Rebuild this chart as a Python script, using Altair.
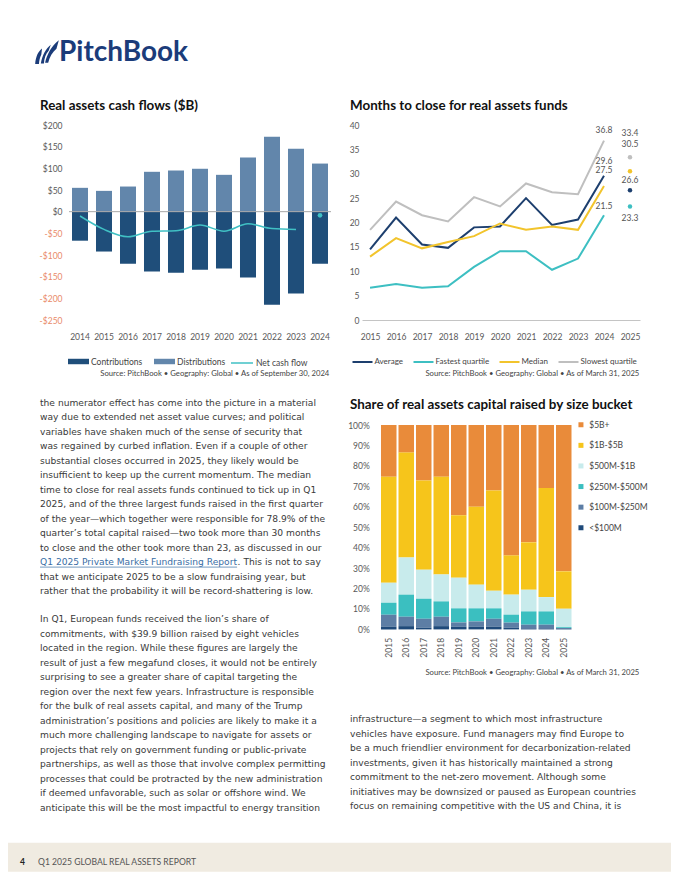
import altair as alt
import pandas as pd

FONT = "Lato"
BODY_FONT = "DejaVu Sans"
TXT = "#3a3a3a"
AX = "#595959"

# ---------------- data: cash flows ($B) ----------------
cf_years = [str(y) for y in range(2014, 2025)]
contributions = [-67, -92, -120, -138, -141, -134, -131, -152, -215, -189, -120]
distributions = [55, 48, 58, 92, 95, 99, 85, 125, 173, 145, 111]
net_years = [str(y) for y in range(2014, 2024)]
net_cash_flow = [-10, -41, -58, -45, -44, -31, -45, -28, -39, -41]
net_last_year = ["2024"]
net_last_value = [-8.5]

# ---------------- data: months to close ----------------
mt_years = list(range(2015, 2025))
mt_series = ["Average", "Fastest quartile", "Median", "Slowest quartile"]
mt_average = [14.5, 21.0, 15.5, 14.8, 19.0, 19.2, 25.0, 19.5, 20.6, 29.6]
mt_fastest = [6.6, 7.4, 6.6, 6.9, 10.9, 14.1, 14.1, 10.3, 12.6, 21.5]
mt_median = [13.0, 16.8, 14.7, 16.0, 17.2, 19.8, 18.5, 19.2, 18.5, 27.5]
mt_slowest = [18.5, 24.3, 21.5, 20.2, 25.2, 23.3, 28.0, 26.2, 25.8, 36.8]
mt_2025 = [26.6, 23.3, 30.5, 33.4]
mt_colors = ["#1d3f6e", "#3dbfc2", "#f2c42c", "#bfbfbf"]
mt_widths = [2.0, 2.0, 1.6, 1.2]

# ---------------- data: share by size bucket (%) ----------------
sb_years = [str(y) for y in range(2015, 2026)]
sb_buckets = ["$5B+", "$1B-$5B", "$500M-$1B", "$250M-$500M", "$100M-$250M", "<$100M"]
sb_colors = ["#e98b3a", "#f6c51b", "#c8ebec", "#3bbfc0", "#5d7ea5", "#1f4a7a"]
sb_lt100m = [1.3, 1.6, 0.8, 1.6, 1.3, 1.3, 1.3, 0.8, 0.5, 0.5, 0.2]
sb_100_250m = [5.9, 4.6, 4.4, 4.6, 2.1, 2.6, 3.9, 2.5, 1.8, 1.8, 0.5]
sb_250_500m = [5.8, 10.8, 9.8, 7.5, 6.9, 6.4, 5.1, 3.9, 6.5, 6.5, 0.4]
sb_500m_1b = [9.8, 18.2, 14.2, 13.2, 15.0, 11.6, 8.6, 9.8, 10.6, 7.0, 9.0]
sb_1b_5b = [51.9, 51.3, 43.6, 47.8, 30.5, 38.1, 49.0, 19.2, 23.2, 53.4, 18.3]
sb_5b_plus = [25.3, 13.5, 27.2, 25.3, 44.2, 40.0, 32.1, 63.8, 57.4, 30.8, 71.6]

# ---------------- text ----------------
para1_a = [
    "the numerator effect has come into the picture in a material",
    "way due to extended net asset value curves; and political",
    "variables have shaken much of the sense of security that",
    "was regained by curbed inflation. Even if a couple of other",
    "substantial closes occurred in 2025, they likely would be",
    "insufficient to keep up the current momentum. The median",
    "time to close for real assets funds continued to tick up in Q1",
    "2025, and of the three largest funds raised in the first quarter",
    "of the year\u2014which together were responsible for 78.9% of the",
    "quarter\u2019s total capital raised\u2014two took more than 30 months",
    "to close and the other took more than 23, as discussed in our",
]
para1_link = "Q1 2025 Private Market Fundraising Report"
para1_link_rest = ". This is not to say"
para1_b = [
    "that we anticipate 2025 to be a slow fundraising year, but",
    "rather that the probability it will be record-shattering is low.",
]
para2 = [
    "In Q1, European funds received the lion\u2019s share of",
    "commitments, with $39.9 billion raised by eight vehicles",
    "located in the region. While these figures are largely the",
    "result of just a few megafund closes, it would not be entirely",
    "surprising to see a greater share of capital targeting the",
    "region over the next few years. Infrastructure is responsible",
    "for the bulk of real assets capital, and many of the Trump",
    "administration\u2019s positions and policies are likely to make it a",
    "much more challenging landscape to navigate for assets or",
    "projects that rely on government funding or public-private",
    "partnerships, as well as those that involve complex permitting",
    "processes that could be protracted by the new administration",
    "if deemed unfavorable, such as solar or offshore wind. We",
    "anticipate this will be the most impactful to energy transition",
]
para3 = [
    "infrastructure\u2014a segment to which most infrastructure",
    "vehicles have exposure. Fund managers may find Europe to",
    "be a much friendlier environment for decarbonization-related",
    "investments, given it has historically maintained a strong",
    "commitment to the net-zero movement. Although some",
    "initiatives may be downsized or paused as European countries",
    "focus on remaining competitive with the US and China, it is",
]

BODY_FS = 9.15
LH = 14.5
LINK_END = 237.6  # page x where the link text ends
TITLE_FS = 13.4

# panel origins in page coordinates
O_CASH = (69, 124.3)
O_MON = (362, 124.3)
O_TXT = (69, 424.3)
O_SHR = (362, 424.3)
SHR_LEFT = 17  # share bars start 17px right of the panel origin


def txt(text, px, py, origin, **kw):
    """Text placed at a page position, relative to the panel origin."""
    base = dict(font=FONT, align="left", baseline="alphabetic", color=TXT)
    base.update(kw)
    if isinstance(text, list):
        base.setdefault("lineBreak", "\n")
        base.setdefault("lineHeight", LH)
        text = "\n".join(text)
    return alt.Chart(pd.DataFrame({"t": [text]})).mark_text(**base).encode(
        x=alt.value(px - origin[0]), y=alt.value(py - origin[1]), text="t:N"
    )


def body(lines, px, py_mid, origin, **kw):
    return txt(lines, px, py_mid - 4.8, origin, baseline="top", fontSize=BODY_FS, font=BODY_FONT, **kw)


def box(px1, py1, px2, py2, origin, color):
    return alt.Chart(pd.DataFrame({"a": [0]})).mark_rect(color=color).encode(
        x=alt.value(px1 - origin[0]), x2=alt.value(px2 - origin[0]),
        y=alt.value(py1 - origin[1]), y2=alt.value(py2 - origin[1]),
    )


SOURCE_KW = dict(fontSize=7.7, align="right", baseline="middle", color="#444444")
LEG_KW = dict(title=None, orient="none", labelFont=FONT, labelColor="#444444", padding=0)

# ================= cash flows panel =================
cf_df = pd.DataFrame({
    "year": cf_years * 2,
    "value": contributions + distributions,
    "type": ["Contributions"] * len(cf_years) + ["Distributions"] * len(cf_years),
})
net_df = pd.DataFrame({"year": net_years, "value": net_cash_flow, "series": ["Net cash flow"] * len(net_years)})
net_last_df = pd.DataFrame({"year": net_last_year, "value": net_last_value})

x_cf = alt.X("year:O", scale=alt.Scale(domain=cf_years, paddingInner=0.333, paddingOuter=0.125),
             axis=alt.Axis(title=None, labelAngle=0, domain=False, ticks=False, labelPadding=12,
                           labelFontSize=8.5, labelColor=AX, labelFont=FONT, zindex=1, labelOverlap=False))
y_cf = alt.Y("value:Q", stack=None, scale=alt.Scale(domain=[-250, 200], nice=False, zero=False),
             axis=alt.Axis(title=None, values=list(range(-250, 201, 50)), grid=False, domain=False,
                           ticks=False, labelPadding=7, labelFontSize=8.5, labelFont=FONT, zindex=1,
                           labelOverlap=False,
                           labelExpr="datum.value < 0 ? '-$' + abs(datum.value) : '$' + datum.value",
                           labelColor={"condition": {"test": "datum.value < 0", "value": "#e98a6a"},
                                       "value": AX}))

RECT_SHAPE = "M-1,-0.26L1,-0.26L1,0.26L-1,0.26Z"

cf_bars = alt.Chart(cf_df).mark_bar().encode(
    x=x_cf, y=y_cf,
    color=alt.Color("type:N", scale=alt.Scale(domain=["Contributions", "Distributions"],
                                              range=["#1f4e7a", "#6286ab"]),
                    legend=alt.Legend(direction="horizontal", legendX=-1, legendY=226,
                                      symbolType=RECT_SHAPE, symbolSize=441, symbolStrokeWidth=0,
                                      labelFontSize=8.5, labelOffset=2, columnPadding=11, **LEG_KW)),
)
cf_zero = alt.Chart(pd.DataFrame({"value": [0]})).mark_rule(color="#a8a8a8", strokeWidth=1).encode(y=y_cf)
cf_line = alt.Chart(net_df).mark_line(interpolate="monotone", strokeWidth=1.5).encode(
    x=x_cf, y=y_cf,
    stroke=alt.Stroke("series:N", scale=alt.Scale(domain=["Net cash flow"], range=["#40c0c4"]),
                      legend=alt.Legend(legendX=161, legendY=226, symbolType="stroke", symbolSize=484,
                                        symbolStrokeWidth=1.5, labelFontSize=8.5, labelOffset=2, **LEG_KW)),
)
cf_dot = alt.Chart(net_last_df).mark_circle(size=22, color="#40c0c4", opacity=1).encode(x=x_cf, y=y_cf)

LOGO_PATH = ("M-1,1C-0.95,0.35-0.75,-0.05-0.42,-0.32L-0.48,0.2C-0.6,0.45-0.66,0.7-0.68,1Z"
             "M-0.52,0.95C-0.42,0.3-0.12,-0.3 0.32,-0.64L0.14,-0.12C-0.1,0.15-0.24,0.5-0.26,0.95Z"
             "M-0.16,0.9C-0.02,0.25 0.38,-0.55 1,-1L0.8,-0.3C0.48,-0.02 0.2,0.4 0.1,0.9Z")

logo_icon = alt.Chart(pd.DataFrame({"a": [0]})).mark_point(
    shape=LOGO_PATH, filled=True, color="#1b3c7a", size=560, opacity=1, strokeWidth=0
).encode(x=alt.value(47 - O_CASH[0]), y=alt.value(51.5 - O_CASH[1]))

cash = alt.layer(
    box(8, 8, 671, 871, O_CASH, "#ffffff"),
    box(8, 842, 671, 871, O_CASH, "#f0ebe1"),
    txt("4", 20, 861, O_CASH, fontSize=8.5, fontWeight="bold", baseline="middle", color="#222222"),
    txt("Q1 2025 GLOBAL REAL ASSETS REPORT", 38, 861, O_CASH, fontSize=8.6, baseline="middle",
        color="#555555"),
    logo_icon,
    txt("PitchBook", 59, 59.8, O_CASH, fontSize=28, fontWeight="bold", color="#1b3c7a"),
    txt("Real assets cash flows ($B)", 40, 109.3, O_CASH, fontSize=TITLE_FS, fontWeight="bold",
        color="#111111"),
    cf_bars, cf_zero, cf_line, cf_dot,
    txt("Source: PitchBook  \u2022  Geography: Global  \u2022  As of September 30, 2024", 329.3, 373.7,
        O_CASH, **SOURCE_KW),
).properties(width=262, height=195)

# ================= months to close panel =================
mt_vals = [mt_average, mt_fastest, mt_median, mt_slowest]
mt_df = pd.DataFrame({
    "year": mt_years * 4,
    "value": sum(mt_vals, []),
    "series": sum([[s] * len(mt_years) for s in mt_series], []),
})
mt_x = alt.X("year:Q", scale=alt.Scale(domain=[2014.69, 2025.385], nice=False, zero=False),
             axis=alt.Axis(title=None, values=list(range(2015, 2026)), format="d", grid=False, ticks=False,
                           domainColor="#c4c4c4", labelPadding=12, labelFontSize=8.5, labelFont=FONT,
                           labelColor=AX, labelFlush=False, labelOverlap=False))
mt_y = alt.Y("value:Q", scale=alt.Scale(domain=[0, 40], nice=False),
             axis=alt.Axis(title=None, values=list(range(0, 41, 5)), grid=False, domain=False, ticks=False,
                           labelPadding=3, labelFontSize=8.5, labelFont=FONT, labelColor=AX,
                           labelOverlap=False))
mt_lines = alt.Chart(mt_df).mark_line(strokeJoin="miter").encode(
    x=mt_x, y=mt_y,
    stroke=alt.Stroke("series:N", scale=alt.Scale(domain=mt_series, range=mt_colors),
                      legend=alt.Legend(direction="horizontal", legendX=-10.5, legendY=226,
                                        symbolType="stroke", symbolSize=400, labelOffset=1,
                                        labelFontSize=8.0, columnPadding=6, **LEG_KW)),
    strokeWidth=alt.StrokeWidth("series:N", scale=alt.Scale(domain=mt_series, range=mt_widths), legend=None),
)
mt_2025_df = pd.DataFrame({"year": [2025] * 4, "value": mt_2025, "series": mt_series})
mt_dots = alt.Chart(mt_2025_df).mark_circle(size=20, opacity=1).encode(
    x=mt_x, y=mt_y,
    fill=alt.Fill("series:N", scale=alt.Scale(domain=mt_series, range=mt_colors), legend=None))

mt_lbl_layers = []
dy_2024 = [-15, -9, -16, -11]
dy_2025 = [-10, 12, -27, -24]
for i, s in enumerate(mt_series):
    d24 = pd.DataFrame({"year": [mt_years[-1]], "value": [mt_vals[i][-1]]})
    d25 = pd.DataFrame({"year": [2025], "value": [mt_2025[i]]})
    for d, dy in ((d24, dy_2024[i]), (d25, dy_2025[i])):
        mt_lbl_layers.append(
            alt.Chart(d).mark_text(font=FONT, fontSize=8.5, color="#555555", dy=dy).encode(
                x=mt_x, y=mt_y, text=alt.Text("value:Q", format=".1f")))

months = alt.layer(
    txt("Months to close for real assets funds", 350, 109.3, O_MON, fontSize=TITLE_FS, fontWeight="bold",
        color="#111111"),
    mt_lines, mt_dots, *mt_lbl_layers,
    txt("Source: PitchBook  \u2022  Geography: Global  \u2022  As of March 31, 2025", 639.3, 373.7, O_MON,
        **SOURCE_KW),
).properties(width=278, height=195)

# ================= left text panel =================
link_y_mid = 402.7 + LH * len(para1_a)
text_panel = alt.layer(
    body(para1_a, 40, 402.7, O_TXT),
    body([para1_link], 40, link_y_mid, O_TXT, color="#3a6ea5"),
    body([para1_link_rest], LINK_END, link_y_mid, O_TXT),
    alt.Chart(pd.DataFrame({"a": [0]})).mark_rule(color="#3a6ea5", strokeWidth=0.7).encode(
        x=alt.value(40 - O_TXT[0]), x2=alt.value(LINK_END - 0.5 - O_TXT[0]),
        y=alt.value(link_y_mid + 4.2 - O_TXT[1])),
    body(para1_b, 40, link_y_mid + LH, O_TXT),
    body(para2, 40, 619.3, O_TXT),
).properties(width=100, height=10)

# ================= share panel =================
SHR_W = 211.5
sb_vals = [sb_5b_plus, sb_1b_5b, sb_500m_1b, sb_250_500m, sb_100_250m, sb_lt100m]
sb_df = pd.DataFrame({
    "year": sb_years * len(sb_buckets),
    "value": sum(sb_vals, []),
    "bucket": sum([[b] * len(sb_years) for b in sb_buckets], []),
    "rank": sum([[len(sb_buckets) - 1 - i] * len(sb_years) for i in range(len(sb_buckets))], []),
})
sb_bars = alt.Chart(sb_df).mark_bar().encode(
    x=alt.X("year:O", scale=alt.Scale(domain=sb_years, paddingInner=0.114, paddingOuter=0.114,
                                      range=[SHR_LEFT, SHR_W]),
            axis=alt.Axis(title=None, labelAngle=-90, domain=False, ticks=False, labelPadding=8,
                          labelFontSize=8.5, labelFont=FONT, labelColor=AX, labelOverlap=False)),
    y=alt.Y("value:Q", stack="normalize", scale=alt.Scale(domain=[0, 1], nice=False),
            axis=alt.Axis(title=None, format=".0%", values=[i / 10 for i in range(11)], grid=False,
                          domain=False, ticks=False, labelPadding=9.7, labelFontSize=8.5, labelFont=FONT,
                          labelColor=AX, offset=-SHR_LEFT, labelOverlap=False)),
    color=alt.Color("bucket:N", scale=alt.Scale(domain=sb_buckets, range=sb_colors),
                    legend=alt.Legend(direction="vertical", legendX=214.7, legendY=-4.5,
                                      symbolType="square", symbolSize=25, symbolStrokeWidth=0,
                                      labelFontSize=8.5, labelOffset=4, rowPadding=11.6, **LEG_KW)),
    order=alt.Order("rank:Q", sort="ascending"),
)
share = alt.layer(
    txt("Share of real assets capital raised by size bucket", 350, 408.3, O_SHR, fontSize=TITLE_FS,
        fontWeight="bold", color="#111111"),
    sb_bars,
    txt("Source: PitchBook  \u2022  Geography: Global  \u2022  As of March 31, 2025", 639.3, 672.7, O_SHR,
        **SOURCE_KW),
    body(para3, 350, 719.3, O_SHR),
).properties(width=SHR_W, height=204.4)

chart = alt.concat(
    cash, months, text_panel, share,
    columns=2, spacing={"row": 105, "column": 31}, align="none", bounds="flush",
).resolve_scale(
    x="independent", y="independent", color="independent", stroke="independent",
    fill="independent", strokeWidth="independent",
).resolve_legend(
    color="independent", stroke="independent", fill="independent", strokeWidth="independent",
).properties(padding=0).configure(font=FONT).configure_view(stroke=None).configure_axis(labelOverlap=False)

chart.save("out.html", embed_options={"renderer": "svg", "actions": False})
